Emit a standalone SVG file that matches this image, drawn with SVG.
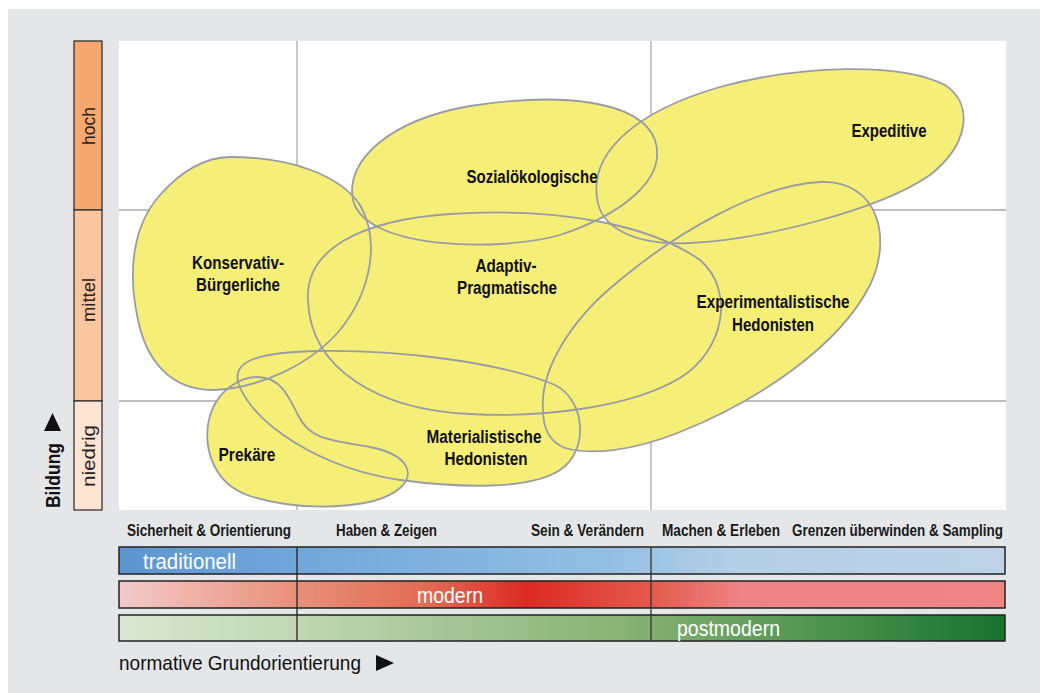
<svg xmlns="http://www.w3.org/2000/svg" width="1040" height="693" viewBox="0 0 1040 693">
  <defs>
    <linearGradient id="gTrad" x1="119" y1="0" x2="1005" y2="0" gradientUnits="userSpaceOnUse">
      <stop offset="0" stop-color="#5c95cf"/>
      <stop offset="0.2" stop-color="#72a7da"/>
      <stop offset="0.55" stop-color="#93bfe3"/>
      <stop offset="0.7" stop-color="#b5cfe6"/>
      <stop offset="1" stop-color="#bdd2e7"/>
    </linearGradient>
    <linearGradient id="gMod" x1="119" y1="0" x2="1005" y2="0" gradientUnits="userSpaceOnUse">
      <stop offset="0" stop-color="#f4caca"/>
      <stop offset="0.2" stop-color="#e8907a"/>
      <stop offset="0.35" stop-color="#e26a52"/>
      <stop offset="0.46" stop-color="#dc2a22"/>
      <stop offset="0.6" stop-color="#e45a4c"/>
      <stop offset="0.7" stop-color="#ee8383"/>
      <stop offset="1" stop-color="#ef8585"/>
    </linearGradient>
    <linearGradient id="gPost" x1="119" y1="0" x2="1005" y2="0" gradientUnits="userSpaceOnUse">
      <stop offset="0" stop-color="#d9e7d3"/>
      <stop offset="0.2" stop-color="#c2d7b3"/>
      <stop offset="0.58" stop-color="#86b174"/>
      <stop offset="0.75" stop-color="#5a9a58"/>
      <stop offset="1" stop-color="#18722f"/>
    </linearGradient>
    <style>
      text { font-family: "Liberation Sans", Arial, sans-serif; }
      .grid { stroke: #a9a9ab; stroke-width: 1.3; fill: none; }
      .blob { fill: #f5ef78; stroke: none; }
      .edge { fill: none; stroke: #9a9ca4; stroke-width: 1.8; }
      .lbl { font-weight: bold; font-size: 18px; fill: #111; text-anchor: middle; }
      .axis { font-size: 18px; fill: #222; text-anchor: middle; }
      .col { font-weight: bold; font-size: 16px; fill: #1a1a1a; }
      .bar { stroke: #222; stroke-width: 1.5; }
      .barTxt { font-size: 22px; fill: #fff; }
      .title { font-size: 21px; fill: #111; }
    </style>
  </defs>

  <!-- panel -->
  <rect x="8" y="9" width="1032" height="684" fill="#e5e6e8"/>
  <rect x="119" y="41" width="887" height="469" fill="#ffffff"/>

  <!-- grid -->
  <g id="grid">
    <line class="grid" x1="297" y1="41" x2="297" y2="510"/>
    <line class="grid" x1="651" y1="41" x2="651" y2="510"/>
    <line class="grid" x1="119" y1="210" x2="1006" y2="210"/>
    <line class="grid" x1="119" y1="401" x2="1006" y2="401"/>
  </g>

  <!-- education scale -->
  <g id="scale-bildung">
    <rect x="74" y="41" width="28" height="169" fill="#f7a86f" stroke="#333" stroke-width="1.3"/>
    <rect x="74" y="210" width="28" height="191" fill="#fbc59f" stroke="#333" stroke-width="1.3"/>
    <rect x="74" y="401" width="28" height="109" fill="#fde3d2" stroke="#333" stroke-width="1.3"/>
    <text class="axis" transform="translate(95,126) rotate(-90)" textLength="38" lengthAdjust="spacingAndGlyphs">hoch</text>
    <text class="axis" transform="translate(95,300) rotate(-90)" textLength="44" lengthAdjust="spacingAndGlyphs">mittel</text>
    <text class="axis" transform="translate(95,456) rotate(-90)" textLength="62" lengthAdjust="spacingAndGlyphs">niedrig</text>
    <text class="title" font-weight="bold" transform="translate(60,508) rotate(-90)" textLength="65" lengthAdjust="spacingAndGlyphs">Bildung</text>
    <polygon points="44,431 61,431 52.5,413" fill="#111"/>
  </g>

  <!-- milieu fills -->
  <g id="fills">
    <path class="blob" d="M 230,157 C 290,157 340,175 360,205 C 380,240 372,290 340,330 C 310,365 260,388 213,390 C 170,390 145,360 137,315 C 128,270 133,225 160,195 C 180,172 205,157 230,157 Z"/>
    <path class="blob" d="M 353,200 C 345,160 390,120 470,106 C 560,92 640,100 655,140 C 668,180 620,215 560,235 C 500,252 365,250 353,200 Z"/>
    <path class="blob" d="M 597,198 C 590,150 640,110 720,87 C 800,65 900,62 945,85 C 975,105 968,145 930,175 C 880,210 760,240 690,243 C 630,246 600,225 597,198 Z"/>
    <path class="blob" d="M 308,300 C 305,250 360,220 450,214 C 560,207 650,225 700,260 C 735,290 725,350 680,378 C 630,408 540,418 470,414 C 380,410 310,370 308,300 Z"/>
    <path class="blob" d="M 543,410 C 540,370 570,320 620,280 C 680,230 760,185 820,182 C 880,180 892,240 870,285 C 840,345 760,400 680,432 C 630,452 590,455 565,448 C 550,442 543,428 543,410 Z"/>
    <path class="blob" d="M 239,385 C 230,360 260,352 320,351 C 400,350 500,362 555,385 C 585,400 590,450 560,470 C 530,490 460,488 400,480 C 320,468 255,425 239,385 Z"/>
    <path class="blob" d="M 257,377 C 280,377 288,395 298,415 C 310,440 330,440 370,447 C 410,455 415,475 400,488 C 375,510 300,512 250,496 C 210,483 200,440 212,410 C 220,390 240,377 257,377 Z"/>
  </g>

  <!-- milieu outlines -->
  <g id="outlines">
    <path id="konservativ" class="edge" d="M 230,157 C 290,157 340,175 360,205 C 380,240 372,290 340,330 C 310,365 260,388 213,390 C 170,390 145,360 137,315 C 128,270 133,225 160,195 C 180,172 205,157 230,157 Z"/>
    <path id="sozial" class="edge" d="M 353,200 C 345,160 390,120 470,106 C 560,92 640,100 655,140 C 668,180 620,215 560,235 C 500,252 365,250 353,200 Z"/>
    <path id="expeditive" class="edge" d="M 597,198 C 590,150 640,110 720,87 C 800,65 900,62 945,85 C 975,105 968,145 930,175 C 880,210 760,240 690,243 C 630,246 600,225 597,198 Z"/>
    <path id="adaptiv" class="edge" d="M 308,300 C 305,250 360,220 450,214 C 560,207 650,225 700,260 C 735,290 725,350 680,378 C 630,408 540,418 470,414 C 380,410 310,370 308,300 Z"/>
    <path id="experimental" class="edge" d="M 543,410 C 540,370 570,320 620,280 C 680,230 760,185 820,182 C 880,180 892,240 870,285 C 840,345 760,400 680,432 C 630,452 590,455 565,448 C 550,442 543,428 543,410 Z"/>
    <path id="materialistisch" class="edge" d="M 239,385 C 230,360 260,352 320,351 C 400,350 500,362 555,385 C 585,400 590,450 560,470 C 530,490 460,488 400,480 C 320,468 255,425 239,385 Z"/>
    <path id="prekaere" class="edge" d="M 257,377 C 280,377 288,395 298,415 C 310,440 330,440 370,447 C 410,455 415,475 400,488 C 375,510 300,512 250,496 C 210,483 200,440 212,410 C 220,390 240,377 257,377 Z"/>
  </g>

  <!-- milieu labels -->
  <g id="labels">
    <text class="lbl" x="238" y="269" textLength="92" lengthAdjust="spacingAndGlyphs">Konservativ-</text>
    <text class="lbl" x="238" y="291" textLength="84" lengthAdjust="spacingAndGlyphs">Bürgerliche</text>
    <text class="lbl" x="532" y="183" textLength="131" lengthAdjust="spacingAndGlyphs">Sozialökologische</text>
    <text class="lbl" x="889" y="137" textLength="75" lengthAdjust="spacingAndGlyphs">Expeditive</text>
    <text class="lbl" x="506" y="272" textLength="61" lengthAdjust="spacingAndGlyphs">Adaptiv-</text>
    <text class="lbl" x="507" y="294" textLength="100" lengthAdjust="spacingAndGlyphs">Pragmatische</text>
    <text class="lbl" x="773" y="308" textLength="153" lengthAdjust="spacingAndGlyphs">Experimentalistische</text>
    <text class="lbl" x="773" y="331" textLength="82" lengthAdjust="spacingAndGlyphs">Hedonisten</text>
    <text class="lbl" x="484" y="443" textLength="115" lengthAdjust="spacingAndGlyphs">Materialistische</text>
    <text class="lbl" x="486" y="465" textLength="83" lengthAdjust="spacingAndGlyphs">Hedonisten</text>
    <text class="lbl" x="247" y="461" textLength="57" lengthAdjust="spacingAndGlyphs">Prekäre</text>
  </g>

  <!-- value orientation columns -->
  <g id="columns">
    <text class="col" x="127" y="536" textLength="164" lengthAdjust="spacingAndGlyphs">Sicherheit &amp; Orientierung</text>
    <text class="col" x="336" y="536" textLength="101" lengthAdjust="spacingAndGlyphs">Haben &amp; Zeigen</text>
    <text class="col" x="531" y="536" textLength="113" lengthAdjust="spacingAndGlyphs">Sein &amp; Verändern</text>
    <text class="col" x="662" y="536" textLength="118" lengthAdjust="spacingAndGlyphs">Machen &amp; Erleben</text>
    <text class="col" x="792" y="536" textLength="211" lengthAdjust="spacingAndGlyphs">Grenzen überwinden &amp; Sampling</text>
  </g>

  <!-- orientation bars -->
  <g id="bars">
    <rect class="bar" x="119" y="547" width="886" height="27" fill="url(#gTrad)"/>
    <rect class="bar" x="119" y="581" width="886" height="27" fill="url(#gMod)"/>
    <rect class="bar" x="119" y="615" width="886" height="26" fill="url(#gPost)"/>
    <line x1="297" y1="547" x2="297" y2="641" stroke="#222" stroke-width="1.3"/>
    <line x1="651" y1="547" x2="651" y2="641" stroke="#333" stroke-width="1.3"/>
    <text class="barTxt" x="143" y="569" textLength="93" lengthAdjust="spacingAndGlyphs">traditionell</text>
    <text class="barTxt" x="417" y="603" textLength="66" lengthAdjust="spacingAndGlyphs">modern</text>
    <text class="barTxt" x="677" y="636" textLength="103" lengthAdjust="spacingAndGlyphs">postmodern</text>
  </g>

  <!-- horizontal axis title -->
  <g id="axis-title">
    <text class="title" x="119" y="670" textLength="242" lengthAdjust="spacingAndGlyphs">normative Grundorientierung</text>
    <polygon points="376,655 376,671 394,663" fill="#111"/>
  </g>
</svg>
